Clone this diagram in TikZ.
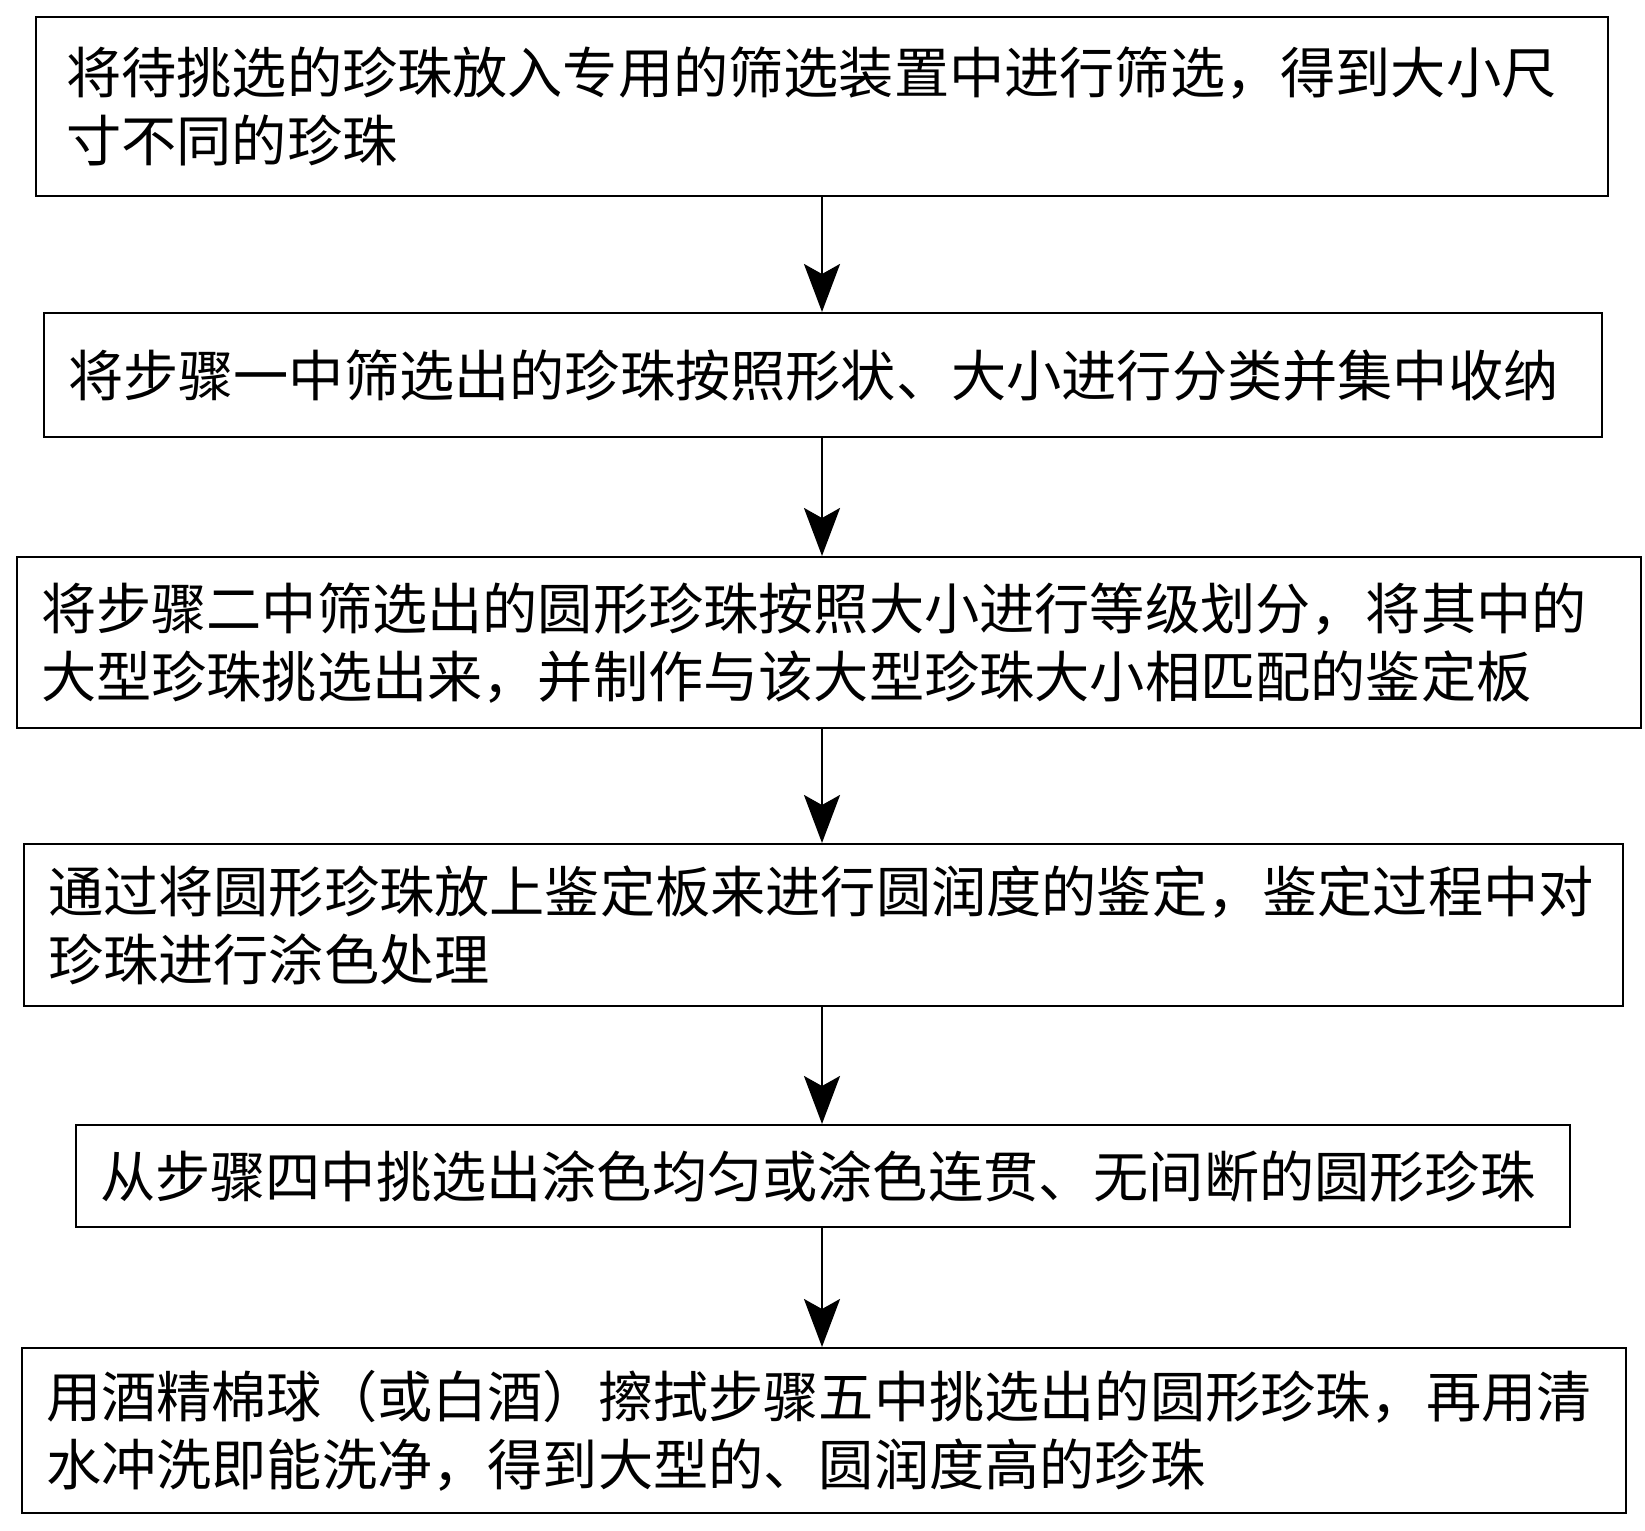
\documentclass[tikz,border=0pt]{standalone}
\usepackage{fontspec}
\setmainfont{Noto Sans CJK SC}
\usetikzlibrary{arrows.meta}
\begin{document}
\begin{tikzpicture}[x=0.5pt,y=-0.5pt,
  stepbox/.style={draw,line width=1.2pt,inner xsep=12pt,inner ysep=0pt,font=\fontsize{27.6pt}{34pt}\selectfont},
  conn/.style={line width=1.3pt,-{Stealth[length=24pt,width=18pt,inset=5pt]}}]
\useasboundingbox (0,0) rectangle (1645,1531);
\newcommand\mybox[6]{% name, x1,y1,x2,y2, text
  \node[stepbox,anchor=north west,minimum width={(#4-#2)*0.5pt},minimum height={(#5-#3)*0.5pt},text width={(#4-#2)*0.5pt-24pt},align=left] (#1) at (#2,#3) {#6};}
\mybox{b1}{35}{16}{1607}{195}{\hspace*{3pt}将待挑选的珍珠放入专用的筛选装置中进行筛选，得到大小尺\\\hspace*{3pt}寸不同的珍珠}
\mybox{b2}{43}{312}{1601}{436}{\centering 将步骤一中筛选出的珍珠按照形状、大小进行分类并集中收纳}
\mybox{b3}{16}{556}{1640}{727}{将步骤二中筛选出的圆形珍珠按照大小进行等级划分，将其中的\\大型珍珠挑选出来，并制作与该大型珍珠大小相匹配的鉴定板}
\mybox{b4}{23}{843}{1622}{1005}{通过将圆形珍珠放上鉴定板来进行圆润度的鉴定，鉴定过程中对\\珍珠进行涂色处理}
\mybox{b5}{75}{1124}{1569}{1226}{\centering 从步骤四中挑选出涂色均匀或涂色连贯、无间断的圆形珍珠}
\mybox{b6}{21}{1347}{1625}{1512}{用酒精棉球（或白酒）擦拭步骤五中挑选出的圆形珍珠，再用清\\水冲洗即能洗净，得到大型的、圆润度高的珍珠}
\foreach \a/\b in {b1/b2,b2/b3,b3/b4,b4/b5,b5/b6}
  \draw[conn] (\a.south -| 822,0) -- (\b.north -| 822,0);
\end{tikzpicture}
\end{document}
